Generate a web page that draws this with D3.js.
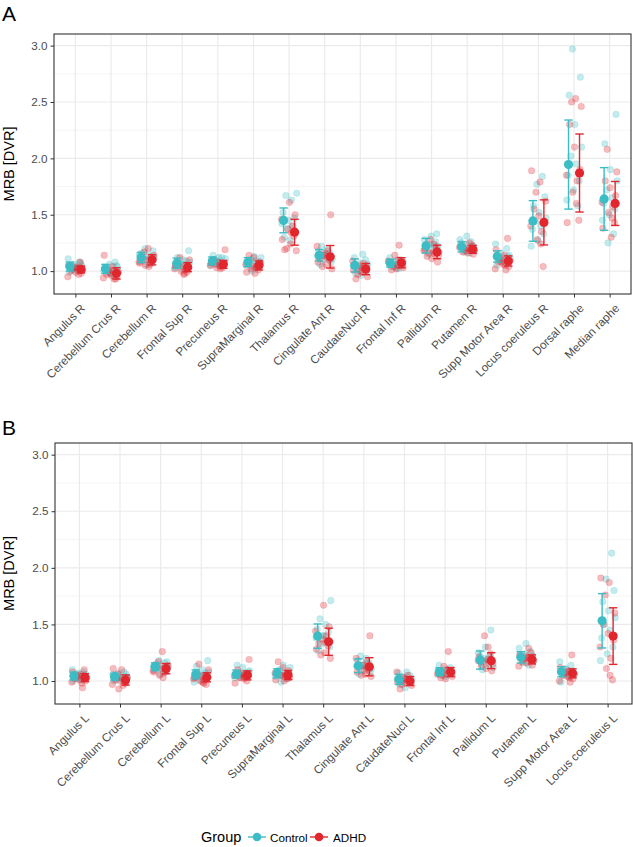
<!DOCTYPE html>
<html><head><meta charset="utf-8">
<script src="https://cdn.jsdelivr.net/npm/d3@7"></script>
<style>body{margin:0;background:#fff;font-family:"Liberation Sans",Arial,sans-serif;}</style>
</head><body><svg id="c" width="633" height="847"></svg>
<script>
// ---------- DATA ----------
const regionsA = ["Angulus R","Cerebellum Crus R","Cerebellum R","Frontal Sup R","Precuneus R","SupraMarginal R","Thalamus R","Cingulate Ant R","CaudateNucl R","Frontal Inf R","Pallidum R","Putamen R","Supp Motor Area R","Locus coeruleus R","Dorsal raphe","Median raphe"];
const meanControlA = [1.04,1.02,1.12,1.07,1.09,1.08,1.45,1.14,1.05,1.07,1.225,1.215,1.13,1.445,1.945,1.64];
const sdControlA   = [0.04,0.04,0.045,0.045,0.035,0.04,0.11,0.05,0.058,0.035,0.065,0.045,0.05,0.18,0.395,0.278];
const meanAdhdA    = [1.015,0.98,1.10,1.035,1.06,1.05,1.345,1.127,1.018,1.074,1.17,1.193,1.09,1.432,1.87,1.60];
const sdAdhdA      = [0.03,0.05,0.045,0.04,0.035,0.04,0.115,0.10,0.05,0.045,0.06,0.035,0.045,0.20,0.346,0.195];
const pointsControlA = [
 [1.11,1.08,1.06,1.05,1.04,1.03,1.02,1.01,1.00,0.99,1.07,1.03],
 [1.08,1.06,1.04,1.02,1.01,1.00,0.99,0.97,1.03,1.05,0.98,1.00],
 [1.20,1.18,1.16,1.14,1.12,1.11,1.10,1.09,1.07,1.06,1.15,1.13],
 [1.18,1.12,1.10,1.08,1.07,1.06,1.05,1.04,1.02,1.03,1.09,1.06],
 [1.14,1.12,1.11,1.10,1.09,1.08,1.07,1.06,1.05,1.12,1.09,1.07],
 [1.13,1.12,1.10,1.09,1.08,1.07,1.06,1.05,1.03,1.00,1.08,1.06],
 [1.69,1.67,1.63,1.52,1.47,1.45,1.42,1.40,1.38,1.35,1.30,1.27],
 [1.22,1.20,1.18,1.16,1.14,1.13,1.12,1.10,1.08,1.06,1.15,1.11],
 [1.15,1.12,1.10,1.07,1.05,1.04,1.02,1.00,0.98,0.96,1.06,1.03],
 [1.12,1.10,1.09,1.08,1.07,1.06,1.05,1.04,1.03,1.08,1.06,1.02],
 [1.33,1.31,1.28,1.26,1.24,1.22,1.21,1.19,1.17,1.15,1.23,1.20],
 [1.31,1.28,1.26,1.24,1.22,1.21,1.20,1.19,1.17,1.16,1.25,1.22],
 [1.24,1.20,1.16,1.14,1.13,1.12,1.11,1.09,1.07,1.05,1.13,1.10],
 [1.84,1.77,1.66,1.58,1.52,1.47,1.44,1.40,1.37,1.33,1.27,1.22],
 [2.97,2.72,2.56,2.30,2.10,2.02,1.95,1.85,1.80,1.72,1.63,1.58],
 [2.39,2.13,1.90,1.80,1.72,1.65,1.60,1.55,1.50,1.45,1.33,1.25]
];
const pointsAdhdA = [
 [1.08,1.05,1.03,1.02,1.01,1.00,0.99,0.98,0.95,0.97,1.04,1.02],
 [1.14,1.04,1.01,0.99,0.97,0.96,0.95,0.94,0.93,0.98,1.00,0.93],
 [1.20,1.17,1.14,1.12,1.10,1.09,1.08,1.06,1.05,1.04,1.11,1.07],
 [1.12,1.10,1.06,1.04,1.03,1.02,1.01,1.00,0.98,0.99,1.05,0.97],
 [1.19,1.10,1.08,1.06,1.05,1.04,1.03,1.02,1.03,1.07,1.05,1.06],
 [1.14,1.12,1.08,1.06,1.05,1.04,1.03,1.01,0.99,0.98,1.02,1.07],
 [1.61,1.50,1.46,1.40,1.37,1.34,1.31,1.28,1.24,1.20,1.18,1.19],
 [1.50,1.22,1.18,1.14,1.12,1.10,1.08,1.06,1.04,1.02,1.11,1.16],
 [1.09,1.07,1.05,1.03,1.02,1.01,0.99,0.97,0.95,0.93,1.00,1.04],
 [1.23,1.14,1.10,1.08,1.07,1.05,1.04,1.03,1.01,1.02,1.06,1.09],
 [1.28,1.24,1.21,1.19,1.17,1.16,1.14,1.13,1.11,1.08,1.18,1.15],
 [1.25,1.23,1.22,1.20,1.19,1.18,1.17,1.16,1.15,1.21,1.19,1.18],
 [1.29,1.19,1.14,1.11,1.09,1.08,1.06,1.04,1.02,1.01,1.08,1.05],
 [1.89,1.79,1.70,1.62,1.55,1.49,1.44,1.40,1.35,1.28,1.24,1.04],
 [2.53,2.50,2.46,2.30,2.10,1.90,1.85,1.80,1.70,1.60,1.45,1.43],
 [2.08,1.88,1.80,1.74,1.67,1.61,1.57,1.52,1.47,1.43,1.38,1.30]
];

const regionsB = ["Angulus L","Cerebellum Crus L","Cerebellum L","Frontal Sup L","Precuneus L","SupraMarginal L","Thalamus L","Cingulate Ant L","CaudateNucl L","Frontal Inf L","Pallidum L","Putamen L","Supp Motor Area L","Locus coeruleus L"];
const meanControlB = [1.044,1.038,1.126,1.059,1.062,1.068,1.397,1.135,1.015,1.082,1.185,1.209,1.082,1.532];
const sdControlB   = [0.035,0.03,0.035,0.04,0.035,0.04,0.107,0.06,0.045,0.035,0.08,0.05,0.045,0.24];
const meanAdhdB    = [1.03,1.009,1.109,1.033,1.05,1.053,1.347,1.126,1.0,1.079,1.18,1.191,1.068,1.397];
const sdAdhdB      = [0.035,0.045,0.045,0.04,0.04,0.04,0.12,0.08,0.04,0.04,0.07,0.04,0.04,0.25];
const pointsControlB = [
 [1.10,1.08,1.07,1.06,1.05,1.04,1.03,1.02,1.01,1.00,1.05,1.03],
 [1.08,1.07,1.06,1.05,1.04,1.03,1.02,1.01,1.00,1.04,1.03,1.06],
 [1.18,1.17,1.15,1.14,1.13,1.12,1.11,1.10,1.08,1.06,1.13,1.16],
 [1.18,1.13,1.10,1.08,1.06,1.05,1.04,1.03,1.01,0.99,1.07,1.05],
 [1.14,1.12,1.09,1.07,1.06,1.05,1.05,1.04,1.03,1.07,1.06,1.08],
 [1.14,1.12,1.10,1.08,1.07,1.06,1.05,1.04,1.02,0.99,1.07,1.09],
 [1.71,1.55,1.50,1.46,1.43,1.40,1.38,1.36,1.33,1.30,1.27,1.40],
 [1.22,1.20,1.18,1.16,1.14,1.13,1.12,1.10,1.08,1.06,1.15,1.11],
 [1.08,1.07,1.05,1.03,1.02,1.01,1.00,0.99,0.97,0.94,1.02,1.00],
 [1.14,1.12,1.10,1.09,1.08,1.07,1.06,1.05,1.04,1.08,1.07,1.10],
 [1.45,1.30,1.25,1.22,1.20,1.18,1.16,1.14,1.12,1.10,1.19,1.22],
 [1.33,1.29,1.26,1.24,1.22,1.21,1.20,1.18,1.16,1.14,1.23,1.19],
 [1.17,1.14,1.11,1.09,1.08,1.07,1.06,1.05,1.04,0.99,1.08,1.10],
 [2.13,1.90,1.80,1.70,1.62,1.56,1.50,1.45,1.38,1.30,1.24,1.18]
];
const pointsAdhdB = [
 [1.10,1.08,1.06,1.04,1.03,1.02,1.01,1.00,0.99,0.94,1.05,0.98],
 [1.11,1.10,1.06,1.03,1.01,1.00,0.99,0.97,0.96,0.93,1.02,0.98],
 [1.26,1.17,1.14,1.12,1.11,1.10,1.09,1.07,1.05,1.03,1.12,1.08],
 [1.15,1.10,1.07,1.04,1.03,1.02,1.01,1.00,0.98,0.97,1.03,0.99],
 [1.19,1.10,1.07,1.06,1.05,1.04,1.03,1.02,1.00,0.98,1.05,1.03],
 [1.17,1.12,1.09,1.07,1.06,1.05,1.04,1.02,1.01,1.00,1.05,1.03],
 [1.67,1.48,1.44,1.40,1.37,1.34,1.31,1.28,1.25,1.23,1.20,1.33],
 [1.40,1.20,1.17,1.14,1.12,1.10,1.08,1.06,1.05,1.04,1.13,1.09],
 [1.08,1.05,1.03,1.01,1.00,0.99,0.98,0.97,0.96,0.93,1.02,0.99],
 [1.26,1.13,1.10,1.08,1.07,1.06,1.05,1.04,1.03,1.02,1.09,1.06],
 [1.40,1.30,1.24,1.21,1.19,1.17,1.15,1.13,1.11,1.09,1.18,1.16],
 [1.29,1.25,1.23,1.21,1.19,1.18,1.17,1.16,1.14,1.13,1.20,1.22],
 [1.23,1.12,1.09,1.07,1.06,1.05,1.04,1.02,1.00,0.99,1.08,1.03],
 [1.91,1.87,1.76,1.60,1.50,1.42,1.36,1.30,1.20,1.11,1.05,1.01]
];
const yTicks = [1.0,1.5,2.0,2.5,3.0];
const yMinor = [1.25,1.75,2.25,2.75];
const groups = ["Control","ADHD"];
const groupColors = ["#3CBCC4","#E2262D"];

// ---------- DRAW ----------
const svg = d3.select("#c");
const jit = [-0.9,0.5,-0.2,0.8,-0.6,0.1,0.95,-0.4,0.3,-0.75,0.65,-0.05];
const jit2 = [0.6,-0.85,0.2,-0.3,0.9,-0.55,0.05,0.75,-0.95,0.4,-0.15,0.3];

function panel(cfg){
  const g = svg.append("g");
  const x = d3.scalePoint().domain(cfg.regions).range([cfg.left, cfg.right]).padding(0.6);
  const y = d3.scaleLinear().domain([0.797, 3.103]).range([cfg.bottom, cfg.top]);
  // grid
  g.selectAll(".gmin").data(yMinor).join("line")
    .attr("x1",cfg.left).attr("x2",cfg.right).attr("y1",d=>y(d)).attr("y2",d=>y(d))
    .attr("stroke","#F2F2F2").attr("stroke-width",0.8);
  g.selectAll(".gmaj").data(yTicks).join("line")
    .attr("x1",cfg.left).attr("x2",cfg.right).attr("y1",d=>y(d)).attr("y2",d=>y(d))
    .attr("stroke","#EBEBEB").attr("stroke-width",1.2);
  g.selectAll(".gx").data(cfg.regions).join("line")
    .attr("x1",d=>x(d)).attr("x2",d=>x(d)).attr("y1",cfg.top).attr("y2",cfg.bottom)
    .attr("stroke","#EBEBEB").attr("stroke-width",1.2);
  // jittered points
  const sets = [cfg.pc, cfg.pa];
  sets.forEach((set,gi)=>{
    const jj = gi===0 ? jit : jit2;
    set.forEach((vals,ri)=>{
      const cx0 = x(cfg.regions[ri]);
      g.selectAll(null).data(vals).join("circle")
        .attr("cx",(d,i)=>cx0 + jj[(i+ri)%jj.length]*8)
        .attr("cy",d=>y(d)).attr("r",3.3)
        .attr("fill",groupColors[gi]).attr("fill-opacity",0.3)
        .attr("stroke",groupColors[gi]).attr("stroke-opacity",0.3).attr("stroke-width",0.5);
    });
  });
  // error bars + means
  const summ = [[cfg.mc,cfg.sc],[cfg.ma,cfg.sa]];
  summ.forEach((s,gi)=>{
    const dx = gi===0 ? -5.5 : 5.5;
    const col = groupColors[gi];
    cfg.regions.forEach((r,ri)=>{
      const cx = x(r)+dx, m=s[0][ri], sd=s[1][ri];
      g.append("line").attr("x1",cx).attr("x2",cx).attr("y1",y(m-sd)).attr("y2",y(m+sd)).attr("stroke",col).attr("stroke-width",1.4);
      [m-sd,m+sd].forEach(v=>g.append("line").attr("x1",cx-4.2).attr("x2",cx+4.2).attr("y1",y(v)).attr("y2",y(v)).attr("stroke",col).attr("stroke-width",1.4));
      g.append("circle").attr("cx",cx).attr("cy",y(m)).attr("r",4.6).attr("fill",col);
    });
  });
  // border
  g.append("rect").attr("x",cfg.left).attr("y",cfg.top).attr("width",cfg.right-cfg.left).attr("height",cfg.bottom-cfg.top)
    .attr("fill","none").attr("stroke","#333").attr("stroke-width",1.1);
  // y axis
  const ya = g.append("g").attr("transform",`translate(${cfg.left},0)`)
    .call(d3.axisLeft(y).tickValues(yTicks).tickFormat(d3.format(".1f")).tickSize(3.5).tickPadding(3));
  ya.select(".domain").remove();
  ya.selectAll("line").attr("stroke","#333");
  ya.selectAll("text").attr("fill","#4D4D4D").style("font-size","11.7px").style("font-family","Liberation Sans, Arial, sans-serif");
  // x axis
  const xa = g.append("g").attr("transform",`translate(0,${cfg.bottom})`)
    .call(d3.axisBottom(x).tickSize(3.5).tickPadding(3));
  xa.select(".domain").remove();
  xa.selectAll("line").attr("stroke","#333");
  xa.selectAll("text").attr("fill","#4D4D4D").style("font-size","11.7px").style("font-family","Liberation Sans, Arial, sans-serif")
    .attr("text-anchor","end").attr("y",0).attr("dy","0.72em")
    .attr("transform","translate(4,9) rotate(-45)");
  // y label
  g.append("text").attr("transform",`translate(14,${(cfg.top+cfg.bottom)/2}) rotate(-90)`)
    .attr("text-anchor","middle").style("font-size","14.5px").attr("fill","#000").text("MRB [DVR]");
  // panel letter
  g.append("text").attr("x",2).attr("y",cfg.letterY).style("font-size","21px").attr("fill","#000").text(cfg.letter);
}

panel({regions:regionsA, left:54, right:631, top:34, bottom:294, mc:meanControlA, sc:sdControlA, ma:meanAdhdA, sa:sdAdhdA, pc:pointsControlA, pa:pointsAdhdA, letter:"A", letterY:21});
panel({regions:regionsB, left:55, right:632, top:443, bottom:704, mc:meanControlB, sc:sdControlB, ma:meanAdhdB, sa:sdAdhdB, pc:pointsControlB, pa:pointsAdhdB, letter:"B", letterY:435});

// legend
const lg = svg.append("g");
lg.append("text").attr("x",201).attr("y",842).style("font-size","14.5px").attr("fill","#000").text("Group");
const keyX = [248, 310], labX = [270, 333];
groups.forEach((gname,i)=>{
  lg.append("line").attr("x1",keyX[i]).attr("x2",keyX[i]+18).attr("y1",837).attr("y2",837).attr("stroke",groupColors[i]).attr("stroke-width",1.4);
  lg.append("circle").attr("cx",keyX[i]+9).attr("cy",837).attr("r",4.3).attr("fill",groupColors[i]);
  lg.append("text").attr("x",labX[i]).attr("y",841.5).style("font-size","11.7px").attr("fill","#000").text(gname);
});
</script></body></html>
